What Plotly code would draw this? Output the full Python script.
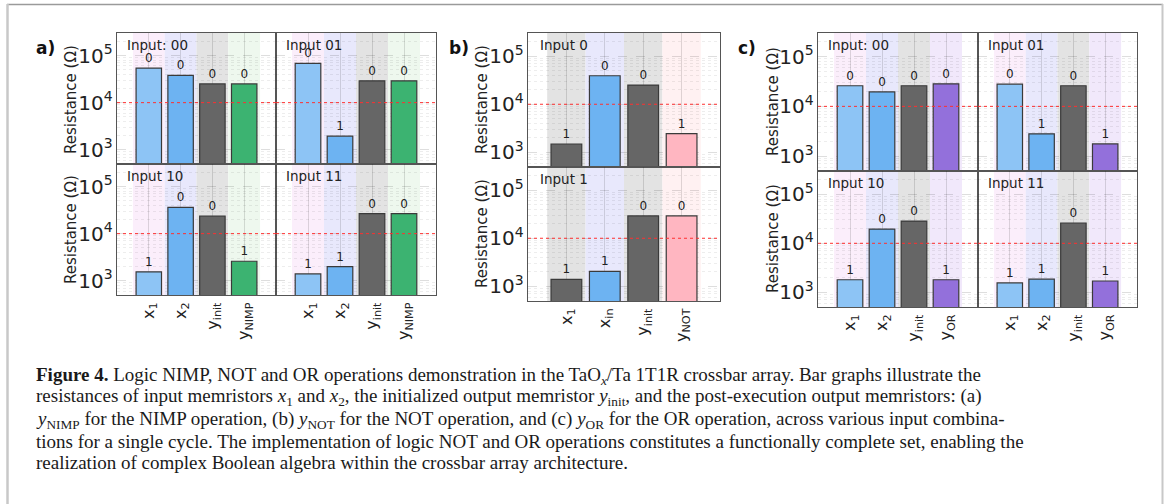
import math
import plotly.graph_objects as go

W, H = 1165, 504

# ---------------- data ----------------
a_categories = ["x<sub>1</sub>", "x<sub>2</sub>", "y<sub>init</sub>", "y<sub>NIMP</sub>"]
b_categories = ["x<sub>1</sub>", "x<sub>in</sub>", "y<sub>init</sub>", "y<sub>NOT</sub>"]
c_categories = ["x<sub>1</sub>", "x<sub>2</sub>", "y<sub>init</sub>", "y<sub>OR</sub>"]

a_labels = ["Input: 00", "Input 01", "Input 10", "Input 11"]
a_res_00 = [54000, 38000, 25000, 25000]
a_res_01 = [68000, 1950, 29000, 29000]
a_res_10 = [1550, 36000, 23500, 2600]
a_res_11 = [1400, 2000, 26500, 26500]
a_state_00 = ["0", "0", "0", "0"]
a_state_01 = ["0", "1", "0", "0"]
a_state_10 = ["1", "0", "0", "1"]
a_state_11 = ["1", "1", "0", "0"]

b_labels = ["Input 0", "Input 1"]
b_res_0 = [1500, 39000, 25000, 2450]
b_res_1 = [1400, 2050, 29000, 29000]
b_state_0 = ["1", "0", "0", "1"]
b_state_1 = ["1", "1", "0", "0"]

c_labels = ["Input: 00", "Input 01", "Input 10", "Input 11"]
c_res_00 = [26000, 19500, 26000, 28500]
c_res_01 = [28000, 2800, 26000, 1750]
c_res_10 = [1800, 19500, 28500, 1800]
c_res_11 = [1550, 1850, 26000, 1700]
c_state_00 = ["0", "0", "0", "0"]
c_state_01 = ["0", "1", "0", "1"]
c_state_10 = ["1", "0", "0", "1"]
c_state_11 = ["1", "1", "0", "1"]

threshold = 1e4

# ---------------- styles ----------------
a_bar_colors = ["#8dc4f5", "#6db3f2", "#666666", "#3cb371"]
a_band_colors = ["#fbeefb", "#e8e8fc", "#e3e3e3", "#eef8ee"]
b_bar_colors = ["#666666", "#6db3f2", "#666666", "#ffb6c1"]
b_band_colors = ["#e3e3e3", "#e8e8fc", "#e3e3e3", "#fff1f2"]
c_bar_colors = ["#8dc4f5", "#6db3f2", "#666666", "#9370db"]
c_band_colors = ["#fbeefb", "#e8e8fc", "#e3e3e3", "#f1e8fb"]

FONT = "DejaVu Sans"
AXCOL = "#555555"
GRID = "rgba(0,0,0,0.13)"
MINOR = "rgba(0,0,0,0.07)"
YRANGE = [math.log10(500), math.log10(3e5)]

fig = go.Figure()
shapes = []
annotations = []


def px_x(p):
    return p / W


def px_y(p):
    return 1 - p / H


count = [0]


def add_panel(xdom, ydom, cats, vals, states, colors, bands, label,
              show_x, show_y):
    count[0] += 1
    i = count[0]
    sfx = "" if i == 1 else str(i)
    xr, yr = "x" + sfx, "y" + sfx
    fig.add_trace(go.Bar(
        x=cats, y=vals, text=states, textposition="outside",
        textfont=dict(family=FONT, size=12, color="#222"),
        marker=dict(color=colors, line=dict(color="#3a3a3a", width=1.2)),
        width=0.8, cliponaxis=False, showlegend=False,
        xaxis=xr, yaxis=yr))
    fig.layout["xaxis" + sfx] = dict(
        domain=[px_x(xdom[0]), px_x(xdom[1])], anchor=yr,
        type="category", range=[-1, 4], categoryorder="array",
        categoryarray=cats,
        showgrid=True, gridcolor=GRID, gridwidth=1,
        showline=True, mirror=True, linecolor=AXCOL, linewidth=1.2,
        ticks="", tickangle=-90, showticklabels=show_x,
        tickfont=dict(family=FONT, size=16, color="#222"),
        zeroline=False, fixedrange=True)
    fig.layout["yaxis" + sfx] = dict(
        domain=[px_y(ydom[1]), px_y(ydom[0])], anchor=xr,
        type="log", range=YRANGE, dtick=1, exponentformat="power",
        showgrid=True, gridcolor=GRID, griddash="dash", gridwidth=1,
        minor=dict(dtick="D1", showgrid=True, gridcolor=MINOR,
                   griddash="dot", gridwidth=1),
        showline=True, mirror=True, linecolor=AXCOL, linewidth=1.2,
        ticks="", showticklabels=show_y,
        tickfont=dict(family=FONT, size=16, color="#222"),
        zeroline=False, fixedrange=True)
    for k, bc in enumerate(bands):
        shapes.append(dict(type="rect", xref=xr, yref=yr + " domain",
                           x0=k - 0.5, x1=k + 0.5, y0=0, y1=1,
                           fillcolor=bc, line=dict(width=0), layer="below"))
    shapes.append(dict(type="line", xref=xr + " domain", yref=yr,
                       x0=0, x1=1, y0=threshold, y1=threshold,
                       line=dict(color="#ff3030", width=1, dash="dot"),
                       layer="above"))
    annotations.append(dict(text=label, xref=xr + " domain",
                            yref=yr + " domain", x=0.05, y=0.985,
                            xanchor="left", yanchor="top", showarrow=False,
                            font=dict(family=FONT, size=13.5, color="#222")))


# panel a
add_panel([117, 276], [33, 164], a_categories, a_res_00, a_state_00,
          a_bar_colors, a_band_colors, a_labels[0], False, True)
add_panel([276, 436], [33, 164], a_categories, a_res_01, a_state_01,
          a_bar_colors, a_band_colors, a_labels[1], False, False)
add_panel([117, 276], [164, 295], a_categories, a_res_10, a_state_10,
          a_bar_colors, a_band_colors, a_labels[2], True, True)
add_panel([276, 436], [164, 295], a_categories, a_res_11, a_state_11,
          a_bar_colors, a_band_colors, a_labels[3], True, False)
# panel b
add_panel([528, 720], [33, 167], b_categories, b_res_0, b_state_0,
          b_bar_colors, b_band_colors, b_labels[0], False, True)
add_panel([528, 720], [167, 301], b_categories, b_res_1, b_state_1,
          b_bar_colors, b_band_colors, b_labels[1], True, True)
# panel c
add_panel([818, 978], [33, 171], c_categories, c_res_00, c_state_00,
          c_bar_colors, c_band_colors, c_labels[0], False, True)
add_panel([978, 1137], [33, 171], c_categories, c_res_01, c_state_01,
          c_bar_colors, c_band_colors, c_labels[1], False, False)
add_panel([818, 978], [171, 307], c_categories, c_res_10, c_state_10,
          c_bar_colors, c_band_colors, c_labels[2], True, True)
add_panel([978, 1137], [171, 307], c_categories, c_res_11, c_state_11,
          c_bar_colors, c_band_colors, c_labels[3], True, False)

# y-axis titles
for xc, yc in [(71, 100), (71, 230), (482, 100), (482, 234), (773, 102), (773, 239)]:
    annotations.append(dict(text="Resistance (Ω)", xref="paper", yref="paper",
                            x=px_x(xc), y=px_y(yc), textangle=-90,
                            showarrow=False, xanchor="center", yanchor="middle",
                            font=dict(family=FONT, size=15, color="#222")))

# panel letters
for t, xl in [("a)", 34), ("b)", 447), ("c)", 736)]:
    annotations.append(dict(text="<b>" + t + "</b>", xref="paper", yref="paper",
                            x=px_x(xl), y=px_y(48), xanchor="left",
                            yanchor="middle", showarrow=False,
                            font=dict(family=FONT, size=17, color="#111")))

# caption
caption = [
    "<b>Figure 4.</b> Logic NIMP, NOT and OR operations demonstration in the TaO<sub><i>x</i></sub>/Ta 1T1R crossbar array. Bar graphs illustrate the",
    "resistances of input memristors <i>x</i><sub>1</sub> and <i>x</i><sub>2</sub>, the initialized output memristor <i>y</i><sub>init</sub>, and the post-execution output memristors: (a)",
    "<i>y</i><sub>NIMP</sub> for the NIMP operation, (b) <i>y</i><sub>NOT</sub> for the NOT operation, and (c) <i>y</i><sub>OR</sub> for the OR operation, across various input combina-",
    "tions for a single cycle. The implementation of logic NOT and OR operations constitutes a functionally complete set, enabling the",
    "realization of complex Boolean algebra within the crossbar array architecture.",
]
caption_y = [375.5, 397, 419.5, 441, 462]
for line, yc in zip(caption, caption_y):
    annotations.append(dict(text=line, xref="paper", yref="paper",
                            x=px_x(34), y=px_y(yc), xanchor="left",
                            yanchor="middle", showarrow=False,
                            font=dict(family="Liberation Serif", size=19,
                                      color="#1a1a1a")))

# outer frame
shapes += [
    dict(type="line", xref="paper", yref="paper", x0=px_x(7), x1=px_x(1163),
         y0=px_y(4.5), y1=px_y(4.5), line=dict(color="#9a9a9a", width=1.5)),
    dict(type="line", xref="paper", yref="paper", x0=px_x(7.5), x1=px_x(7.5),
         y0=px_y(4), y1=0, line=dict(color="#c8c8c8", width=2.5)),
    dict(type="line", xref="paper", yref="paper", x0=px_x(1162.5), x1=px_x(1162.5),
         y0=px_y(4), y1=0, line=dict(color="#c8c8c8", width=2)),
]

fig.update_layout(width=W, height=H, margin=dict(l=0, r=0, t=0, b=0),
                  paper_bgcolor="white", plot_bgcolor="white",
                  shapes=shapes, annotations=annotations, bargap=0.2,
                  font=dict(family=FONT))

fig.write_html("out.html")
